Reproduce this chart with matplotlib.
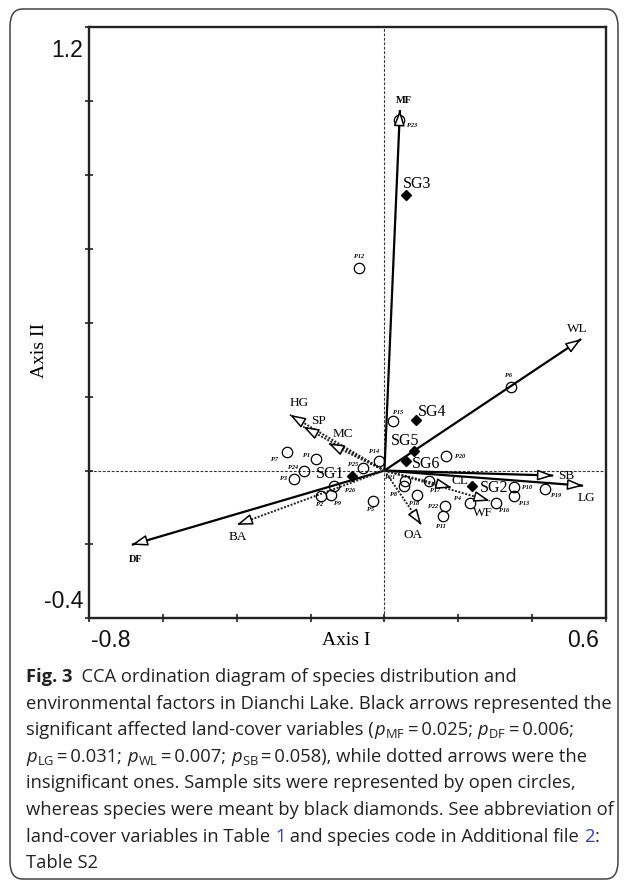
import matplotlib
matplotlib.use("Agg")
import matplotlib.pyplot as plt
from matplotlib.patches import FancyArrowPatch, FancyBboxPatch
import numpy as np

# ---------------- data ----------------
site_names = ["P1", "P2", "P3", "P4", "P5", "P6", "P7", "P8", "P9", "P10", "P11", "P12", "P13",
              "P14", "P15", "P16", "P17", "P18", "P19", "P20", "P21", "P22", "P23", "P24", "P25", "P26"]
site_x = [-0.184, -0.172, -0.244, 0.231, -0.031, 0.342, -0.265, 0.053, -0.146, 0.350, 0.159, -0.069, 0.350,
          -0.014, 0.024, 0.301, 0.120, 0.088, 0.435, 0.168, 0.055, 0.165, 0.040, -0.217, -0.059, -0.137]
site_y = [0.032, -0.068, -0.023, -0.087, -0.082, 0.227, 0.051, -0.041, -0.066, -0.045, -0.124, 0.548, -0.068,
          0.027, 0.133, -0.088, -0.028, -0.066, -0.050, 0.040, -0.027, -0.096, 0.949, -0.001, 0.008, -0.041]

species_names = ["SG1", "SG2", "SG3", "SG4", "SG5", "SG6"]
species_x = [-0.089, 0.237, 0.059, 0.085, 0.080, 0.058]
species_y = [-0.014, -0.041, 0.746, 0.137, 0.053, 0.026]

env_names = ["MF", "DF", "LG", "WL", "SB", "HG", "SP", "MC", "BA", "OA", "CL", "WF"]
env_x = [0.042, -0.684, 0.538, 0.533, 0.457, -0.256, -0.220, -0.152, -0.400, 0.100, 0.182, 0.285]
env_y = [0.976, -0.201, -0.041, 0.356, -0.0135, 0.151, 0.119, 0.074, -0.147, -0.147, -0.046, -0.082]
env_significant = [True, True, True, True, True, False, False, False, False, False, False, False]

x_ticks = [-0.8, -0.6, -0.4, -0.2, 0.0, 0.2, 0.4, 0.6]
y_ticks = [-0.4, -0.2, 0.0, 0.2, 0.4, 0.6, 0.8, 1.0, 1.2]

# ---------------- layout / style ----------------
W, H, DPI = 627, 883, 100
SERIF = "Liberation Serif"
SANS = "Liberation Sans"
CAP = "Open Sans"

# label offsets in pixels (dx right, dy down)
site_lab_off = {"P1": (-10, -3), "P2": (-1, 9), "P3": (-11, -1), "P4": (-12, -4), "P5": (-2, 9),
                "P6": (-2, -11), "P7": (-12, 8), "P8": (-11, 9), "P9": (7, 9), "P10": (13, 0),
                "P11": (-2, 10), "P12": (0, -12), "P13": (10, 8), "P14": (-5, -9), "P15": (5, -9),
                "P16": (8, 7), "P17": (6, 10), "P18": (-3, 9), "P19": (11, 6), "P20": (14, 1),
                "P21": (-15, -3), "P22": (-12, 0), "P23": (13, 5), "P24": (-11, -3), "P25": (-10, -3),
                "P26": (16, 5)}
species_lab_off = {"SG1": (-21, -2), "SG2": (22, 2), "SG3": (11, -11), "SG4": (16, -8),
                   "SG5": (-9, -10), "SG6": (20, 3)}
env_lab_off = {"MF": (4, -10), "DF": (4, 15), "LG": (3, 12), "WL": (-4, -10), "SB": (13, 0),
               "HG": (9, -12), "SP": (15, -6), "MC": (15, -9), "BA": (1, 12), "OA": (-8, 10),
               "CL": (8, -7), "WF": (-7, 12)}

fig = plt.figure(figsize=(W / DPI, H / DPI), dpi=DPI)
fig.patch.set_facecolor("white")

# rounded frame around figure + caption
frame = FancyBboxPatch((10 / W, 1 - 879 / H), (618 - 10) / W, (879 - 9) / H,
                       boxstyle="round,pad=0,rounding_size=0.02",
                       transform=fig.transFigure, fill=False, ec="#444444", lw=1.1)
fig.add_artist(frame)

ax_l, ax_r, ax_t, ax_b = 89, 606, 27.3, 618.3
ax = fig.add_axes([ax_l / W, 1 - ax_b / H, (ax_r - ax_l) / W, (ax_b - ax_t) / H])
ax.set_xlim(-0.8, 0.6)
ax.set_ylim(-0.4, 1.2)
for s in ax.spines.values():
    s.set_linewidth(1.7)
    s.set_color("#222222")
ax.set_xticks(x_ticks)
ax.set_yticks(y_ticks)
ax.set_xticklabels([])
ax.set_yticklabels([])
ax.tick_params(direction="inout", length=6, width=1.2, color="#222222")

# end tick labels placed inside the span like the original
tick_kw = dict(fontsize=16.5, family=SANS, color="#111111", textcoords="offset pixels",
               annotation_clip=False)
ax.annotate(f"{y_ticks[-1]:.1f}", xy=(x_ticks[0], y_ticks[-1]), xytext=(-6, -23),
            ha="right", va="center", **tick_kw)
ax.annotate(f"{y_ticks[0]:.1f}", xy=(x_ticks[0], y_ticks[0]), xytext=(-6, 17),
            ha="right", va="center", **tick_kw)
ax.annotate(f"{x_ticks[0]:.1f}", xy=(x_ticks[0], y_ticks[0]), xytext=(22, -22),
            ha="center", va="center", **tick_kw)
ax.annotate(f"{x_ticks[-1]:.1f}", xy=(x_ticks[-1], y_ticks[0]), xytext=(-23, -22),
            ha="center", va="center", **tick_kw)

ax.annotate("Axis I", xy=(0.5 * (x_ticks[0] + x_ticks[-1]), y_ticks[0]), xytext=(-1, -22),
            textcoords="offset pixels", ha="center", va="center", fontsize=14,
            family=SERIF, annotation_clip=False)
fig.text(40 / W, 1 - 350 / H, "Axis II", rotation=90, ha="center", va="center",
         fontsize=14, family=SERIF)

# reference lines
ax.axhline(0, color="#333333", lw=0.8, ls=(0, (2.5, 1.5)), zorder=1)
ax.axvline(0, color="#333333", lw=0.8, ls=(0, (2.5, 1.5)), zorder=1)

# environmental arrows
for name, ex, ey, sig in zip(env_names, env_x, env_y, env_significant):
    if sig:
        ax.plot([0, ex], [0, ey], color="black", lw=1.6, solid_capstyle="butt", zorder=3)
    else:
        ax.plot([0, ex], [0, ey], color="#222222", lw=1.4, ls=(0, (1, 0.8)), zorder=3)
    u = np.array([ex, ey]) / np.hypot(ex, ey)
    start = np.array([ex, ey]) - 0.04 * u
    head = FancyArrowPatch(posA=tuple(start), posB=(ex, ey),
                           arrowstyle="-|>,head_length=0.95,head_width=0.33",
                           mutation_scale=10, fc="white", ec="black", lw=1.1,
                           shrinkA=0, shrinkB=0, zorder=5)
    ax.add_patch(head)
    dx, dy = env_lab_off[name]
    bold = name in ("MF", "DF")
    ax.annotate(name, xy=(ex, ey), xytext=(dx, -dy), textcoords="offset pixels",
                ha="center", va="center", family=SERIF,
                fontsize=7.5 if bold else 9.5, fontweight="bold" if bold else "normal",
                zorder=6)

# sites
ax.plot(site_x, site_y, ls="none", marker="o", ms=7.5, mfc="none", mec="black", mew=0.9, zorder=4)
for name, sx, sy in zip(site_names, site_x, site_y):
    dx, dy = site_lab_off[name]
    ax.annotate(name, xy=(sx, sy), xytext=(dx, -dy), textcoords="offset pixels",
                ha="center", va="center", family=SERIF, fontsize=4.5,
                style="italic", fontweight="bold", zorder=6)

# species
ax.plot(species_x, species_y, ls="none", marker="D", ms=5, mfc="black", mec="black", zorder=5)
for name, sx, sy in zip(species_names, species_x, species_y):
    dx, dy = species_lab_off[name]
    ax.annotate(name, xy=(sx, sy), xytext=(dx, -dy), textcoords="offset pixels",
                ha="center", va="center", family=SERIF, fontsize=11.5, zorder=6)

# ---------------- caption ----------------
plt.rcParams["mathtext.fontset"] = "custom"
plt.rcParams["mathtext.rm"] = CAP
plt.rcParams["mathtext.it"] = CAP + ":italic"
plt.rcParams["mathtext.bf"] = CAP + ":bold"

blue = "#2b3fd6"
caption_lines = [
    [("Fig. 3", "b"), ("  CCA ordination diagram of species distribution and", "r")],
    [("environmental factors in Dianchi Lake. Black arrows represented the", "r")],
    [("significant affected land-cover variables (", "r"), (r"$p_{\mathrm{MF}}$", "r"),
     ("\u2009=\u20090.025; ", "r"), (r"$p_{\mathrm{DF}}$", "r"), ("\u2009=\u20090.006;", "r")],
    [(r"$p_{\mathrm{LG}}$", "r"), ("\u2009=\u20090.031; ", "r"), (r"$p_{\mathrm{WL}}$", "r"),
     ("\u2009=\u20090.007; ", "r"), (r"$p_{\mathrm{SB}}$", "r"),
     ("\u2009=\u20090.058), while dotted arrows were the", "r")],
    [("insignificant ones. Sample sits were represented by open circles,", "r")],
    [("whereas species were meant by black diamonds. See abbreviation of", "r")],
    [("land-cover variables in Table ", "r"), ("1", "blue"),
     (" and species code in Additional file ", "r"), ("2", "blue"), (":", "r")],
    [("Table S2", "r")],
]

renderer = fig.canvas.get_renderer()


def measure(txt, size, style):
    t = fig.text(0, 0, txt.replace(" ", "\u00a0"), fontsize=size, family=[CAP, "DejaVu Sans"],
                 fontweight="bold" if style == "b" else "normal")
    w = t.get_window_extent(renderer).width
    t.remove()
    return w


# fit font size so the longest line spans the original width
target_w = 609 - 26
probe = 12.0
w_probe = measure(caption_lines[5][0][0], probe, "r")
cap_size = probe * target_w / w_probe

x0 = 26
y_first = 682
line_gap = 26.6
for i, runs in enumerate(caption_lines):
    x = x0
    yb = y_first + i * line_gap
    for txt, style in runs:
        col = blue if style == "blue" else "#222222"
        t = fig.text(x / W, 1 - yb / H, txt.replace(" ", "\u00a0"), fontsize=cap_size,
                     family=[CAP, "DejaVu Sans"], color=col, ha="left", va="baseline",
                     fontweight="bold" if style == "b" else "normal")
        x += t.get_window_extent(renderer).width

fig.savefig("out.png", dpi=DPI, facecolor="white")
